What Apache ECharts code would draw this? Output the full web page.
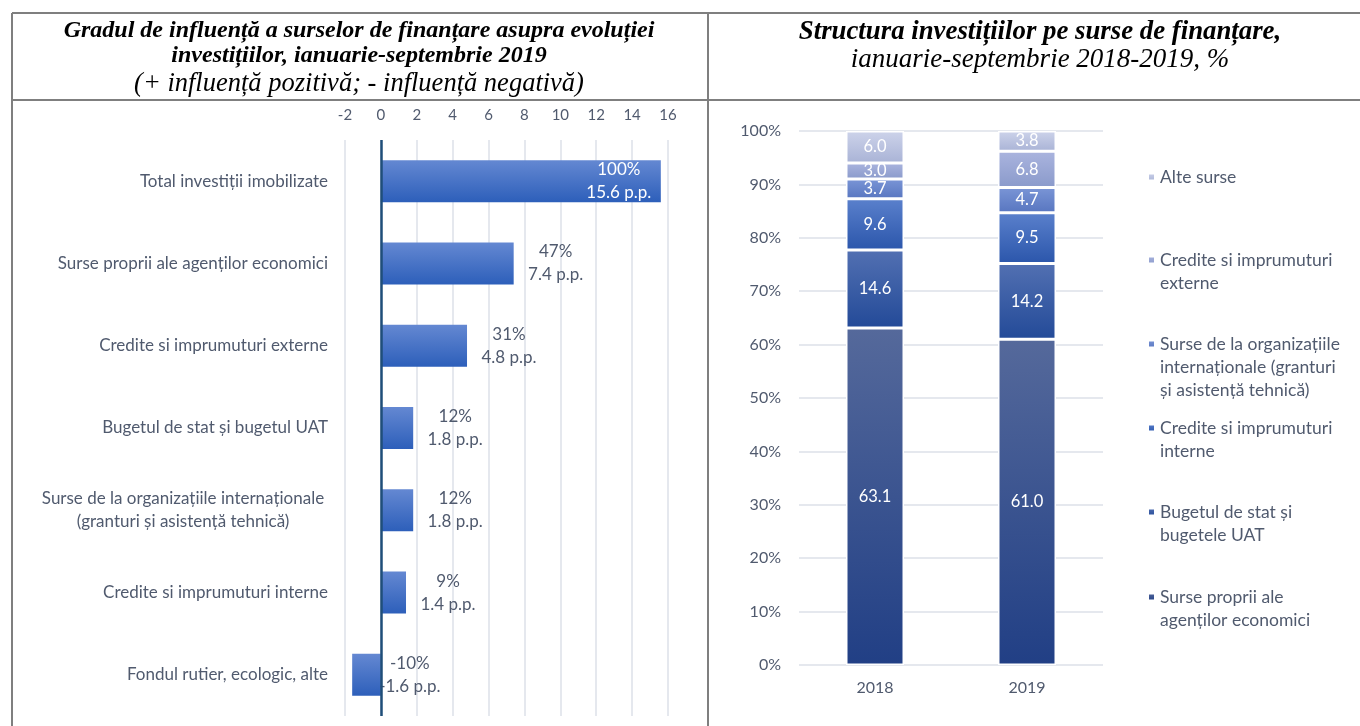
<!DOCTYPE html>
<html>
<head>
<meta charset="utf-8">
<script src="https://cdn.jsdelivr.net/npm/echarts@6/dist/echarts.min.js"></script>
<style>
  html, body { margin: 0; padding: 0; background: #fff; }
  #chart { width: 1360px; height: 726px; }
</style>
</head>
<body>
<div id="chart"></div>
<script>
// left chart: influence of financing sources (p.p.)
const influenceCategories = [
  'Total investiții imobilizate',
  'Surse proprii ale agenților economici',
  'Credite si imprumuturi externe',
  'Bugetul de stat și bugetul UAT',
  'Surse de la organizațiile internaționale\n(granturi și asistență tehnică)',
  'Credite si imprumuturi interne',
  'Fondul rutier, ecologic, alte'
]
const influenceValues = [15.6, 7.4, 4.8, 1.8, 1.8, 1.4, -1.6]
const influenceShares = [100, 47, 31, 12, 12, 9, -10]
const influenceTicks = { min: -2, max: 16, interval: 2 }

// right chart: structure by source, %
const years = ['2018', '2019']
const sourceNames = [
  'Surse proprii ale agenților economici',
  'Bugetul de stat și bugetele UAT',
  'Credite si imprumuturi interne',
  'Surse de la organizațiile internaționale (granturi și asistență tehnică)',
  'Credite si imprumuturi externe',
  'Alte surse'
]
const sourceLegendText = [
  'Surse proprii ale\nagenților economici',
  'Bugetul de stat și\nbugetele UAT',
  'Credite si imprumuturi\ninterne',
  'Surse de la organizațiile\ninternaționale (granturi\nși asistență tehnică)',
  'Credite si imprumuturi\nexterne',
  'Alte surse'
]
const surseProprii = [63.1, 61.0]
const bugetul = [14.6, 14.2]
const crediteInterne = [9.6, 9.5]
const organizatii = [3.7, 4.7]
const crediteExterne = [3.0, 6.8]
const alteSurse = [6.0, 3.8]
const sourceValues = [surseProprii, bugetul, crediteInterne, organizatii, crediteExterne, alteSurse]

const textColor = '#505a6e'
const fontFamily = 'Lato, "Open Sans", sans-serif'

function grad (top, bottom) {
  return {
    type: 'linear', x: 0, y: 0, x2: 0, y2: 1,
    colorStops: [{ offset: 0, color: top }, { offset: 1, color: bottom }]
  }
}

const sourceColors = [
  grad('#55699b', '#213f85'),
  grad('#5270b2', '#234a98'),
  grad('#5a80cc', '#2b56ab'),
  grad('#7a95d6', '#5876c0'),
  grad('#aab4de', '#8a9acb'),
  grad('#cdd3ea', '#a9b3d6')
]
// first-line y of each legend entry
const legendFirstLine = [597, 512, 428, 344, 260, 177]

let myChart = echarts.init(document.getElementById('chart'))

let series = []
series.push({
  type: 'bar',
  xAxisIndex: 0,
  yAxisIndex: 0,
  barWidth: 42,
  data: influenceValues.map((v, i) => {
    let item = { value: v }
    if (i === 0) {
      item.label = { position: 'insideRight', distance: 4, color: '#ffffff' }
    } else if (v < 0) {
      item.label = { distance: -9 }
    }
    return item
  }),
  itemStyle: { color: grad('#6488d2', '#2d5fba') },
  label: {
    show: true,
    position: 'right',
    distance: 4,
    color: textColor,
    fontFamily: fontFamily,
    fontSize: 17,
    lineHeight: 23,
    formatter: p => '{a|' + influenceShares[p.dataIndex] + '%}\n{a|' + p.value + ' p.p.}',
    rich: {
      a: { width: 76, align: 'center', fontSize: 17, lineHeight: 23 }
    }
  },
  markLine: {
    silent: true,
    symbol: 'none',
    label: { show: false },
    lineStyle: { color: '#1f4e79', width: 2.5, type: 'solid' },
    data: [{ xAxis: 0 }]
  }
})

sourceNames.forEach((name, index) => {
  series.push({
    name: name,
    type: 'bar',
    stack: 'total',
    xAxisIndex: 1,
    yAxisIndex: 1,
    barWidth: 58,
    itemStyle: {
      color: sourceColors[index],
      borderColor: '#ffffff',
      borderWidth: 1.5
    },
    label: {
      show: true,
      position: 'inside',
      color: '#ffffff',
      fontFamily: fontFamily,
      fontSize: 16.5,
      formatter: p => p.value.toFixed(1)
    },
    data: sourceValues[index]
  })
})

let legends = sourceNames.map((name, index) => {
  let lines = sourceLegendText[index].split('\n').length
  let lh = 23
  return {
    data: [name],
    orient: 'vertical',
    left: 1147,
    top: legendFirstLine[index] - (2 * lines - 1) * lh / 2,
    padding: 0,
    itemWidth: 7,
    itemHeight: 7,
    itemGap: 0,
    icon: 'rect',
    selectedMode: false,
    textStyle: { color: textColor, fontFamily: fontFamily, fontSize: 17.5, lineHeight: lh },
    formatter: () => '\n'.repeat(lines - 1) + sourceLegendText[index]
  }
})

const frame = { stroke: '#7f7f7f', lineWidth: 2 }
const serif = '"Liberation Serif", "Times New Roman", serif'

let option = {
  animation: false,
  backgroundColor: '#ffffff',
  textStyle: { fontFamily: fontFamily },
  graphic: [
    { type: 'line', shape: { x1: 12, y1: 13, x2: 1360, y2: 13 }, style: frame },
    { type: 'line', shape: { x1: 12, y1: 13, x2: 12, y2: 726 }, style: frame },
    { type: 'line', shape: { x1: 708, y1: 13, x2: 708, y2: 726 }, style: frame },
    { type: 'line', shape: { x1: 12, y1: 100, x2: 1360, y2: 100 }, style: frame },
    { type: 'text', x: 359, y: 31, style: { text: 'Gradul de influență a surselor de finanțare asupra evoluției', font: 'bold italic 24px ' + serif, fill: '#000', align: 'center', verticalAlign: 'middle' } },
    { type: 'text', x: 359, y: 56, style: { text: 'investițiilor, ianuarie-septembrie 2019', font: 'bold italic 24px ' + serif, fill: '#000', align: 'center', verticalAlign: 'middle' } },
    { type: 'text', x: 359, y: 84, style: { text: '(+ influență pozitivă; - influență negativă)', font: 'italic 26.5px ' + serif, fill: '#000', align: 'center', verticalAlign: 'middle' } },
    { type: 'text', x: 1040, y: 32, style: { text: 'Structura investițiilor pe surse de finanțare,', font: 'bold italic 26.8px ' + serif, fill: '#000', align: 'center', verticalAlign: 'middle' } },
    { type: 'text', x: 1040, y: 60, style: { text: 'ianuarie-septembrie 2018-2019, %', font: 'italic 27px ' + serif, fill: '#000', align: 'center', verticalAlign: 'middle' } }
  ],
  legend: legends,
  grid: [
    { left: 345, right: 692, top: 140, bottom: 10 },
    { left: 799, right: 257, top: 131, bottom: 61 }
  ],
  xAxis: [
    {
      type: 'value',
      gridIndex: 0,
      position: 'top',
      min: influenceTicks.min,
      max: influenceTicks.max,
      interval: influenceTicks.interval,
      axisLine: { show: false },
      axisTick: { show: false },
      axisLabel: { color: textColor, fontSize: 15, margin: 17 },
      splitLine: { lineStyle: { color: '#dde1e8', width: 1.5 } }
    },
    {
      type: 'category',
      gridIndex: 1,
      data: years,
      axisLine: { show: false },
      axisTick: { show: false },
      axisLabel: { color: textColor, fontSize: 16, margin: 15 }
    }
  ],
  yAxis: [
    {
      type: 'category',
      gridIndex: 0,
      inverse: true,
      data: influenceCategories,
      axisLine: { show: false, onZero: false },
      axisTick: { show: false },
      axisLabel: {
        color: textColor,
        fontSize: 17,
        margin: 17,
        lineHeight: 23,
        formatter: v => {
          if (v.indexOf('\n') >= 0) {
            return v.split('\n').map(s => '{c|' + s + '}').join('\n')
          }
          return v
        },
        rich: {
          c: { width: 290, align: 'center', color: textColor, fontSize: 17, lineHeight: 23 }
        }
      }
    },
    {
      type: 'value',
      gridIndex: 1,
      min: 0,
      max: 100,
      interval: 10,
      axisLine: { show: false },
      axisTick: { show: false },
      axisLabel: { color: textColor, fontSize: 16, margin: 18, formatter: '{value}%' },
      splitLine: { lineStyle: { color: '#dde1e8', width: 1.5 } }
    }
  ],
  series: series
}
myChart.setOption(option)
</script>
</body>
</html>
